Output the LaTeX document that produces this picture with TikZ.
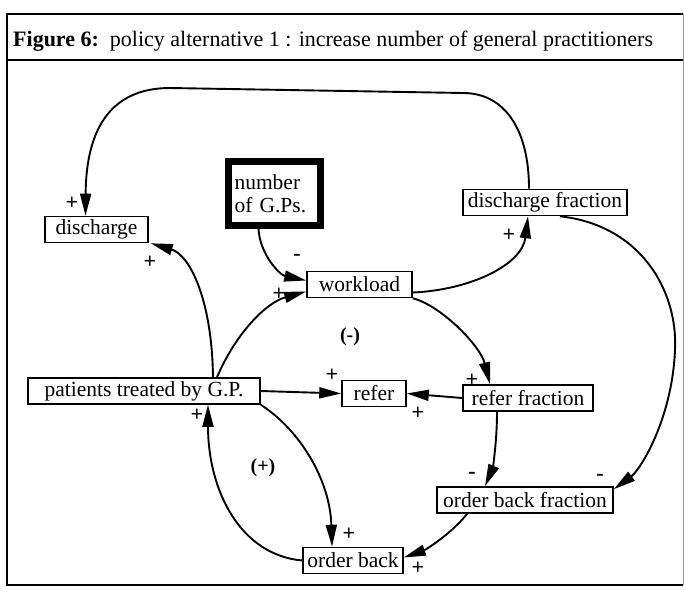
\documentclass[tikz,border=0pt]{standalone}
\usepackage{fontspec}
\setmainfont{Liberation Serif}
\usetikzlibrary{arrows.meta,calc}
\begin{document}
\begin{tikzpicture}[x=1pt,y=-1pt,
  box/.style={draw, line width=1.6pt, inner sep=0pt, minimum height=26pt,
    font=\fontsize{21.5}{23}\selectfont, anchor=center},
  link/.style={line width=1.9pt, -{Triangle[length=22pt,width=11pt]}},
  sign/.style={font=\fontsize{22}{22}\selectfont\bfseries, inner sep=0pt},
  loop/.style={font=\fontsize{20}{20}\selectfont\bfseries, inner sep=0pt}]
\useasboundingbox (0,0) rectangle (684,591);

% frame and title bar
\draw[line width=1.6pt] (683,14) -- (7,14) -- (7,585) -- (683,585);
\draw[line width=0.6pt, black!40] (683,14) -- (683,585);
\draw[line width=1.6pt] (7,60) -- (683,60);
\node[anchor=base west, inner sep=0pt, font=\fontsize{22}{24}\selectfont] (title) at (13,47)
  {\textbf{Figure 6:}\ \ policy alternative 1 : increase number of general practitioners};

% variables
\node[box, minimum width=103pt] (dis) at (96.5,229.5) {discharge};
\node[draw, line width=7pt, minimum width=92pt, minimum height=64pt, inner sep=0pt,
  text width=80pt, align=left, font=\fontsize{21.5}{23}\selectfont] (ngp) at (274.5,193.5)
  {number\\of G.Ps.};
\node[box, minimum width=105pt] (wl) at (359.5,284.5) {workload};
\node[box, minimum width=164pt] (df) at (545,202.5) {discharge fraction};
\node[box, minimum width=232pt] (pt) at (144,391) {patients treated by G.P.};
\node[box, minimum width=64pt] (rf) at (374,393.5) {refer};
\node[box, minimum width=130pt] (rff) at (528,398) {refer fraction};
\node[box, minimum width=176pt] (obf) at (525,500) {order back fraction};
\node[box, minimum width=100pt] (ob) at (353,560.5) {order back};

% causal links
\draw[link] ($(df.north)+(-16,0)$) .. controls (529,130) and (505,93) .. (463,93)
  -- (170,88) .. controls (110,88) and (86,130) .. ($(dis.north)+(-11,0)$);
\draw[link] ($(pt.north)+(69,0)$) .. controls (212,300) and (190,255) .. ($(dis.south east)+(2,0)$);
\draw[link] ($(pt.north)+(73,0)$) .. controls (235,335) and (265,303) .. ($(wl.west)+(0,7)$);
\draw[link] ($(ngp.south)+(-16,0)$) .. controls (260,255) and (280,275) .. ($(wl.west)+(0,-4)$);
\draw[link] ($(wl.east)+(0,8)$) .. controls (470,290) and (522,265) .. ($(df.south)+(-17,0)$);
\draw[link] (wl.south east) .. controls (440,305) and (480,345) .. ($(rff.north)+(-38,0)$);
\draw[link] (pt.east) -- (rf.west);
\draw[link] (rff.west) -- (rf.east);
\draw[link] ($(rff.south)+(-31,0)$) .. controls (497,445) and (492,470) .. ($(obf.north)+(-40,0)$);
\draw[link] ($(df.south)+(15,0)$) .. controls (640,225) and (678,290) .. (675,350)
  .. controls (672,420) and (640,470) .. ($(obf.north east)+(0,3)$);
\draw[link] ($(obf.south west)+(31,0)$) .. controls (450,535) and (425,550) .. ($(ob.east)+(0,-3)$);
\draw[link] (pt.south east) .. controls (300,430) and (330,480) .. ($(ob.north)+(-21,0)$);
\draw[link] (ob.west) .. controls (240,555) and (208,490) .. ($(pt.south)+(64,0)$);

% link polarities
\node[sign] (s1) at (72,203) {+};
\node[sign] (s2) at (150,262) {+};
\node[sign] (s3) at (279,294) {+};
\node[sign] (s4) at (297,257) {-};
\node[sign] (s5) at (509,235) {+};
\node[sign] (s6) at (472,380) {+};
\node[sign] (s7) at (332,375) {+};
\node[sign] (s8) at (418,413) {+};
\node[sign] (s9) at (472,475) {-};
\node[sign] (s10) at (600,477) {-};
\node[sign] (s11) at (349,534) {+};
\node[sign] (s12) at (418,568) {+};
\node[sign] (s13) at (197,415) {+};

% loop polarities
\node[loop] (l1) at (350,337) {(-)};
\node[loop] (l2) at (263,468) {(+)};
\end{tikzpicture}
\end{document}
